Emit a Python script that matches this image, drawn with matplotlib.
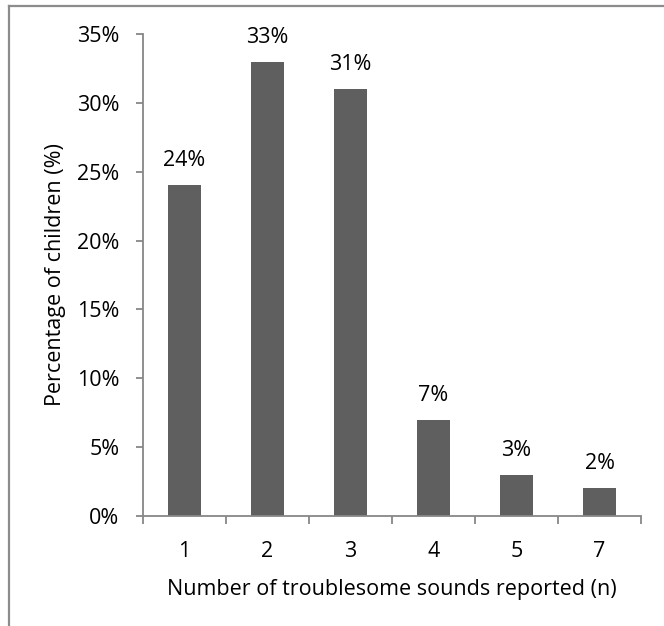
import matplotlib
matplotlib.use("Agg")
import matplotlib.pyplot as plt
from matplotlib.lines import Line2D
import numpy as np

categories = ["1", "2", "3", "4", "5", "7"]
percentages = [24, 33, 31, 7, 3, 2]
y_ticks = [0, 5, 10, 15, 20, 25, 30, 35]

plt.rcParams["font.family"] = ["Open Sans", "DejaVu Sans"]
FS = 15.5
BAR = "#5f5f5f"
AXC = "#878787"

fig = plt.figure(figsize=(6.64, 6.26), dpi=100)
ax = fig.add_axes([143 / 664, 1 - 516 / 626, (641 - 143) / 664, (516 - 34) / 626])

x = np.arange(len(categories))
ax.bar(x, percentages, width=0.4, color=BAR, zorder=2)
for xi, v in zip(x, percentages):
    ax.annotate(f"{v}%", (xi, v), xytext=(0, 19), textcoords="offset pixels",
                ha="center", va="baseline", fontsize=FS, color="black")

ax.set_xlim(-0.5, len(categories) - 0.5)
ax.set_ylim(0, 35)
ax.set_yticks(y_ticks)
ax.set_yticklabels([f"{t}%" for t in y_ticks], fontsize=FS)
ax.set_xticks(x)
ax.set_xticklabels(categories, fontsize=FS)
ax.set_xticks(np.arange(-0.5, len(categories)), minor=True)
ax.tick_params(axis="x", which="major", length=0, pad=18)
ax.tick_params(axis="x", which="minor", length=6, width=1.3, color=AXC, direction="out")
ax.tick_params(axis="y", which="major", length=5, width=1.3, color=AXC, direction="out", pad=12)

for s in ["top", "right"]:
    ax.spines[s].set_visible(False)
for s in ["left", "bottom"]:
    ax.spines[s].set_color(AXC)
    ax.spines[s].set_linewidth(1.3)

ax.set_ylabel("Percentage of children (%)", fontsize=FS, labelpad=8)
ax.set_xlabel("Number of troublesome sounds reported (n)", fontsize=FS, labelpad=12)

# chart frame edges
fig.add_artist(Line2D([8.5 / 664, 1], [1 - 6 / 626, 1 - 6 / 626], transform=fig.transFigure,
                      color="#8c8c8c", lw=1.6))
fig.add_artist(Line2D([8.5 / 664, 8.5 / 664], [0, 1 - 6 / 626], transform=fig.transFigure,
                      color="#8c8c8c", lw=1.6))

fig.savefig("out.png", dpi=100, facecolor="white")
